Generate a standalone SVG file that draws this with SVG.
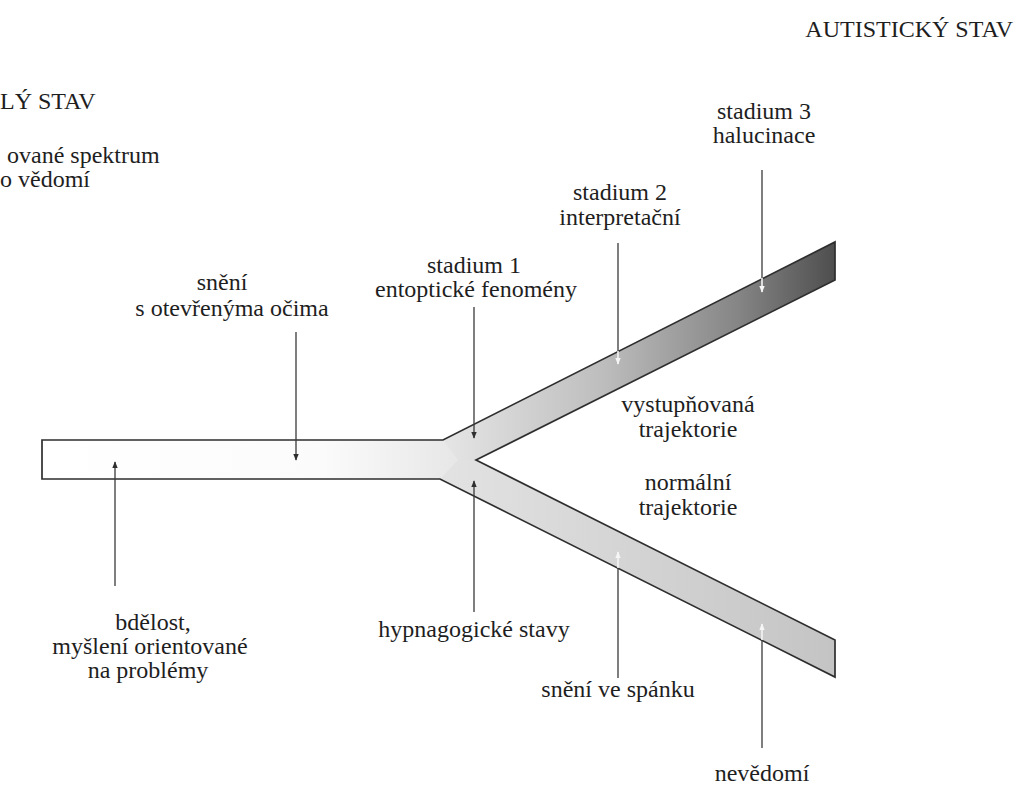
<svg xmlns="http://www.w3.org/2000/svg" width="1025" height="792" viewBox="0 0 1025 792">
<style>
text{font-family:"Liberation Serif","DejaVu Serif",serif;font-size:24px;fill:#1e1e1e;text-anchor:middle}
.l{text-anchor:start}
.r{text-anchor:end}
.ln{stroke:#3a3a3a;stroke-width:1.3;fill:none}
.wl{stroke:#f4f4f4;stroke-width:1.6;fill:none}
.edge{stroke:#2e2e2e;stroke-width:1.7;fill:none;stroke-linejoin:miter}
</style>
<defs>
<linearGradient id="gBar" gradientUnits="userSpaceOnUse" x1="42" y1="0" x2="476" y2="0">
<stop offset="0" stop-color="#ffffff"/>
<stop offset="0.65" stop-color="#fbfbfb"/>
<stop offset="1" stop-color="#e4e4e4"/>
</linearGradient>
<linearGradient id="gUp" gradientUnits="userSpaceOnUse" x1="450" y1="0" x2="835" y2="0">
<stop offset="0" stop-color="#e4e4e4"/>
<stop offset="0.4" stop-color="#bdbdbd"/>
<stop offset="0.75" stop-color="#858585"/>
<stop offset="1" stop-color="#4e4e4e"/>
</linearGradient>
<linearGradient id="gLow" gradientUnits="userSpaceOnUse" x1="450" y1="0" x2="835" y2="0">
<stop offset="0" stop-color="#e2e2e2"/>
<stop offset="1" stop-color="#c4c4c4"/>
</linearGradient>
<marker id="ad" viewBox="0 0 10 10" refX="9" refY="5" markerWidth="7" markerHeight="7" markerUnits="userSpaceOnUse" orient="auto">
<path d="M0,1 L10,5 L0,9 Z" fill="#2e2e2e"/>
</marker>
<marker id="aw" viewBox="0 0 10 10" refX="9" refY="5" markerWidth="7" markerHeight="7" markerUnits="userSpaceOnUse" orient="auto">
<path d="M0,1 L10,5 L0,9 Z" fill="#f6f6f6"/>
</marker>
</defs>
<rect width="1025" height="792" fill="#ffffff"/>

<g id="band">
<polygon points="42,440 443,440 460,460 440,479 42,479" fill="url(#gBar)"/>
<polygon points="443,440 835,242 835,280 476,460 458,460" fill="url(#gUp)"/>
<polygon points="458,460 476,460 835,640 835,677 440,479" fill="url(#gLow)"/>
<path class="edge" d="M42,440 L443,440 L835,242 L835,280 L476,460 L835,640 L835,677 L440,479 L42,479 Z"/>
</g>

<g id="header-left">
<text class="l" x="0" y="109">LÝ STAV</text>
<text class="l" x="7"><tspan x="7" y="163">ované spektrum</tspan><tspan x="0" y="187">o vědomí</tspan></text>
</g>
<g id="header-right">
<text class="r" x="1013" y="37">AUTISTICKÝ STAV</text>
</g>

<g id="node-stadium3"><text><tspan x="764" y="119">stadium 3</tspan><tspan x="764" y="143">halucinace</tspan></text></g>
<g id="node-stadium2"><text><tspan x="620" y="200">stadium 2</tspan><tspan x="620" y="225">interpretační</tspan></text></g>
<g id="node-stadium1"><text><tspan x="474" y="273">stadium 1</tspan><tspan x="476" y="297">entoptické fenomény</tspan></text></g>
<g id="node-sneni"><text><tspan x="222" y="290">snění</tspan><tspan x="232" y="316">s otevřenýma očima</tspan></text></g>
<g id="node-vystup"><text><tspan x="688" y="412">vystupňovaná</tspan><tspan x="688" y="437">trajektorie</tspan></text></g>
<g id="node-normal"><text><tspan x="688" y="490">normální</tspan><tspan x="688" y="515">trajektorie</tspan></text></g>
<g id="node-bdelost"><text><tspan x="153" y="630">bdělost,</tspan><tspan x="150" y="654">myšlení orientované</tspan><tspan x="148" y="678">na problémy</tspan></text></g>
<g id="node-hypna"><text x="474" y="637">hypnagogické stavy</text></g>
<g id="node-spanek"><text x="618" y="697">snění ve spánku</text></g>
<g id="node-nevedomi"><text x="762" y="781">nevědomí</text></g>

<g id="connectors">
<line class="ln" x1="296" y1="332" x2="296" y2="460" marker-end="url(#ad)"/>
<line class="ln" x1="474" y1="307" x2="474" y2="438" marker-end="url(#ad)"/>
<line class="ln" x1="115" y1="586" x2="115" y2="462" marker-end="url(#ad)"/>
<line class="ln" x1="474" y1="612" x2="474" y2="481" marker-end="url(#ad)"/>
<line class="ln" x1="618" y1="243" x2="618" y2="351"/>
<line class="wl" x1="618" y1="351" x2="618" y2="364" marker-end="url(#aw)"/>
<line class="ln" x1="762" y1="170" x2="762" y2="278"/>
<line class="wl" x1="762" y1="278" x2="762" y2="292" marker-end="url(#aw)"/>
<line class="ln" x1="618" y1="678" x2="618" y2="568"/>
<line class="wl" x1="618" y1="568" x2="618" y2="552" marker-end="url(#aw)"/>
<line class="ln" x1="762" y1="748" x2="762" y2="640"/>
<line class="wl" x1="762" y1="640" x2="762" y2="624" marker-end="url(#aw)"/>
</g>
</svg>
